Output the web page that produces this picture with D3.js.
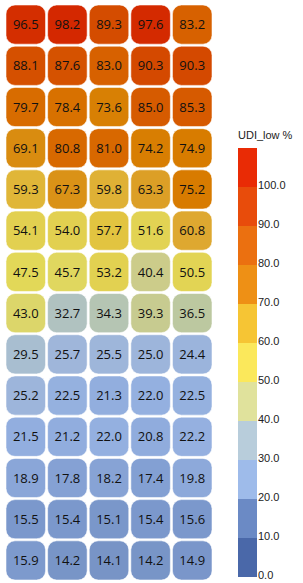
<!DOCTYPE html>
<html>
<head>
<meta charset="utf-8">
<script src="https://cdn.jsdelivr.net/npm/d3@7"></script>
<style>
  html, body { margin: 0; padding: 0; background: #fff; }
  svg { display: block; }
</style>
</head>
<body>
<div id="chart"></div>
<script>
(function(){
  'use strict';

  // values, one list per row, top to bottom
  var cols = [0, 1, 2, 3, 4];
  var row01 = [96.5, 98.2, 89.3, 97.6, 83.2];
  var row02 = [88.1, 87.6, 83.0, 90.3, 90.3];
  var row03 = [79.7, 78.4, 73.6, 85.0, 85.3];
  var row04 = [69.1, 80.8, 81.0, 74.2, 74.9];
  var row05 = [59.3, 67.3, 59.8, 63.3, 75.2];
  var row06 = [54.1, 54.0, 57.7, 51.6, 60.8];
  var row07 = [47.5, 45.7, 53.2, 40.4, 50.5];
  var row08 = [43.0, 32.7, 34.3, 39.3, 36.5];
  var row09 = [29.5, 25.7, 25.5, 25.0, 24.4];
  var row10 = [25.2, 22.5, 21.3, 22.0, 22.5];
  var row11 = [21.5, 21.2, 22.0, 20.8, 22.2];
  var row12 = [18.9, 17.8, 18.2, 17.4, 19.8];
  var row13 = [15.5, 15.4, 15.1, 15.4, 15.6];
  var row14 = [15.9, 14.2, 14.1, 14.2, 14.9];
  var rowsData = [row01, row02, row03, row04, row05, row06, row07,
                  row08, row09, row10, row11, row12, row13, row14];

  var legendTicks = [0, 10, 20, 30, 40, 50, 60, 70, 80, 90, 100];
  var legendBands = [0, 10, 20, 30, 40, 50, 60, 70, 80, 90, 100];
  var legendTitle = 'UDI_low %';

  // palettes
  var bandColors = ['#4a68a9', '#6b8ac5', '#9ebbea', '#b8cddb', '#e0e29c',
                    '#fbe85b', '#f6c534', '#ee9015', '#eb7010', '#e84c0b', '#e92b05'];
  var cellStops  = [14, 15.5, 19, 22, 25.5, 29.5, 32.7, 36.5, 40.4, 43, 47.5, 54, 57.7, 60.8, 69, 75, 81, 90, 98];
  var cellColors = ['#7894c6', '#7b98cc', '#8aa6d8', '#94b0e0', '#9eb6da', '#a8bed0', '#b0c2c0',
                    '#bcc8a0', '#cccc8a', '#dcd66a', '#e2d858', '#e2d050', '#e2c440', '#dea830',
                    '#d98c10', '#d87c00', '#d86800', '#d44a00', '#d42800'];

  var W = 303, H = 583;

  var svg = d3.select('#chart').append('svg')
    .attr('width', W).attr('height', H);

  var x = d3.scaleBand().domain(cols).range([6, 212]).paddingInner(0.05);
  var y = d3.scaleBand().domain(d3.range(rowsData.length)).range([5, 580]).paddingInner(0.05);
  var color = d3.scaleLinear().domain(cellStops).range(cellColors).clamp(true);

  var cells = [];
  rowsData.forEach(function(r, i){
    r.forEach(function(v, j){ cells.push({row: i, col: j, v: v}); });
  });

  var g = svg.append('g');
  var cell = g.selectAll('g.cell').data(cells).enter()
    .append('g').attr('class', 'cell')
    .attr('transform', function(d){ return 'translate(' + x(d.col) + ',' + y(d.row) + ')'; });

  cell.append('rect')
    .attr('width', x.bandwidth()).attr('height', y.bandwidth())
    .attr('rx', 9).attr('ry', 9)
    .attr('fill', function(d){ return color(d.v); })
    .attr('stroke', 'rgba(255,255,255,0.55)')
    .attr('stroke-width', 1);

  cell.append('text')
    .attr('x', x.bandwidth() / 2)
    .attr('y', y.bandwidth() / 2)
    .attr('dy', '0.36em')
    .attr('text-anchor', 'middle')
    .style('font-family', '"Open Sans", "Noto Sans", sans-serif')
    .style('font-size', '13px')
    .attr('fill', '#111')
    .text(function(d){ return d.v.toFixed(1); });

  // legend
  var ly = d3.scaleLinear().domain([0, 110]).range([577, 148]);
  var legend = svg.append('g').attr('transform', 'translate(238,0)');

  legend.selectAll('rect').data(legendBands).enter().append('rect')
    .attr('x', 0).attr('width', 19)
    .attr('y', function(d){ return ly(d + 10); })
    .attr('height', function(d){ return ly(d) - ly(d + 10); })
    .attr('fill', function(d, i){ return bandColors[i]; });

  legend.selectAll('text.tick').data(legendTicks).enter().append('text')
    .attr('class', 'tick')
    .attr('x', 20)
    .attr('y', function(d){ return ly(d) + 1.5; })
    .style('font-family', '"Liberation Sans", Arial, sans-serif')
    .style('font-size', '11px')
    .attr('fill', '#222')
    .text(function(d){ return d.toFixed(1); });

  legend.append('text')
    .attr('x', 0).attr('y', 139)
    .style('font-family', '"Liberation Sans", Arial, sans-serif')
    .style('font-size', '11px')
    .attr('fill', '#222')
    .text(legendTitle);

})();
</script>
</body>
</html>
